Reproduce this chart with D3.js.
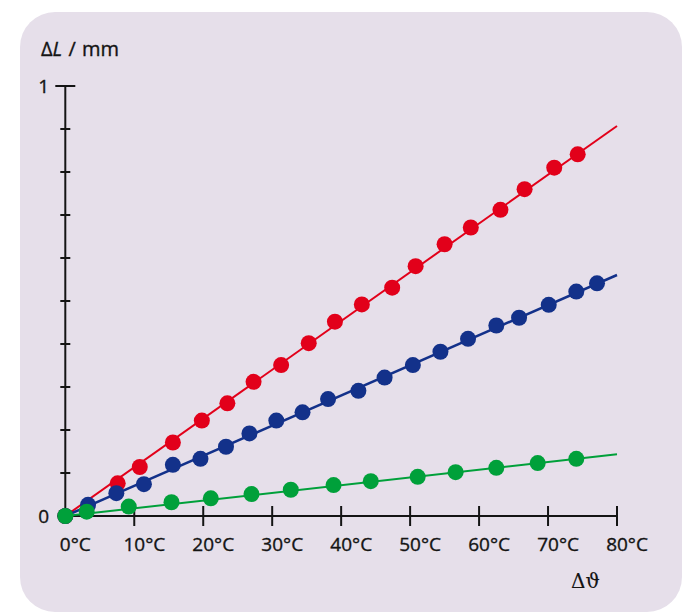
<!DOCTYPE html>
<html><head><meta charset="utf-8">
<script src="https://cdn.jsdelivr.net/npm/d3@7"></script>
<style>body{margin:0;background:#fff;} svg{display:block;} text{stroke:#141414;stroke-width:0.35px;}</style>
</head><body>
<svg id="c" width="694" height="612"></svg>
<script>
// Data (ΔL in mm vs Δϑ in °C)
const xTicks = [0,10,20,30,40,50,60,70,80];
const yTicks = [0,0.1,0.2,0.3,0.4,0.5,0.6,0.7,0.8,0.9,1];
const seriesNames = ["red","blue","green"];
const redPoints = [[0,0],[7.6,0.076],[10.8,0.114],[15.6,0.171],[19.8,0.222],[23.5,0.262],[27.3,0.312],[31.3,0.351],[35.3,0.402],[39.1,0.452],[43.0,0.492],[47.4,0.531],[50.8,0.581],[55.0,0.632],[58.8,0.671],[63.1,0.712],[66.6,0.760],[70.9,0.810],[74.3,0.841]];
const bluePoints = [[0,0],[3.3,0.026],[7.4,0.053],[11.4,0.074],[15.6,0.119],[19.6,0.133],[23.3,0.161],[26.7,0.192],[30.6,0.222],[34.4,0.241],[38.1,0.272],[42.5,0.291],[46.3,0.322],[50.4,0.351],[54.4,0.382],[58.4,0.412],[62.5,0.443],[65.8,0.461],[70.1,0.491],[74.1,0.522],[77.1,0.541]];
const greenPoints = [[0,0],[3.1,0.010],[9.2,0.022],[15.4,0.032],[21.1,0.041],[27.0,0.051],[32.7,0.061],[38.9,0.072],[44.3,0.081],[51.1,0.091],[56.6,0.102],[62.5,0.112],[68.5,0.123],[74.1,0.133]];
// fitted lines: value at 0°C and 80°C
const redLine = [[0,0],[80,0.907]];
const blueLine = [[0,0],[80,0.5605]];
const greenLine = [[0,0],[80,0.1435]];

const colors = {red:"#e2001a", blue:"#13318a", green:"#00a03a"};
const widths = {red:2, blue:2.5, green:2};
const series = [
  {name:"red", pts:redPoints, line:redLine},
  {name:"blue", pts:bluePoints, line:blueLine},
  {name:"green", pts:greenPoints, line:greenLine}
];

const svg = d3.select("#c");
svg.append("rect").attr("x",20).attr("y",12).attr("width",662).attr("height",600)
  .attr("rx",35).attr("ry",35).attr("fill","#e6dfea");

const x = d3.scaleLinear().domain([0,80]).range([65.3,617]);
const y = d3.scaleLinear().domain([0,1]).range([516,86]);
const font = "'Open Sans', 'Liberation Sans', sans-serif";
const ink = "#141414";

// y axis
const g = svg.append("g");
g.append("line").attr("x1",x(0)).attr("x2",x(0)).attr("y1",y(1)).attr("y2",y(0))
  .attr("stroke",ink).attr("stroke-width",2);
g.selectAll(".yt").data(yTicks.filter(d=>d>0)).join("line")
  .attr("x1",d=>x(0)-(d===1?10:5)).attr("x2",d=>x(0)+(d===1?10:5))
  .attr("y1",d=>y(d)).attr("y2",d=>y(d)).attr("stroke",ink).attr("stroke-width",2);
// x axis
g.append("line").attr("x1",x(0)-8).attr("x2",x(80)).attr("y1",y(0)).attr("y2",y(0))
  .attr("stroke",ink).attr("stroke-width",2);
g.selectAll(".xt").data(xTicks.filter(d=>d>0)).join("line")
  .attr("x1",d=>x(d)).attr("x2",d=>x(d)).attr("y1",y(0)-10).attr("y2",y(0)+10)
  .attr("stroke",ink).attr("stroke-width",2);

// y labels
g.selectAll(".yl").data([0,1]).join("text")
  .attr("x",49).attr("y",d=>y(d)).attr("dy","0.36em").attr("text-anchor","end")
  .attr("font-family",font).attr("font-size",19).attr("fill",ink).text(d=>d);

// x labels: number centered on the tick, "°C" appended
xTicks.forEach(d=>{
  const t = g.append("text").attr("y",551).attr("font-family",font).attr("font-size",19).attr("fill",ink);
  const num = t.append("tspan").text(d);
  t.append("tspan").text("°C");
  const w = num.node().getComputedTextLength();
  t.attr("x", x(d)-w/2);
});

// axis titles
const tt = svg.append("text").attr("x",41).attr("y",55.5).attr("font-family",font).attr("font-size",20)
  .attr("fill",ink).attr("word-spacing",1);
tt.append("tspan").text("Δ");
tt.append("tspan").attr("font-style","italic").text("L");
tt.append("tspan").text(" / mm");
svg.append("text").attr("x",571).attr("y",588).attr("font-family","'DejaVu Serif', 'Liberation Serif', serif")
  .attr("font-size",20).attr("fill",ink).style("stroke-width","0.1px").text("Δϑ");

// series
const lineGen = d3.line().x(d=>x(d[0])).y(d=>y(d[1]));
series.forEach(s=>{
  const sg = svg.append("g");
  sg.append("path").attr("d",lineGen(s.line)).attr("fill","none")
    .attr("stroke",colors[s.name]).attr("stroke-width",widths[s.name]);
  sg.selectAll("circle").data(s.pts).join("circle")
    .attr("cx",d=>x(d[0])).attr("cy",d=>y(d[1])).attr("r",8).attr("fill",colors[s.name]);
});
</script>
</body></html>
